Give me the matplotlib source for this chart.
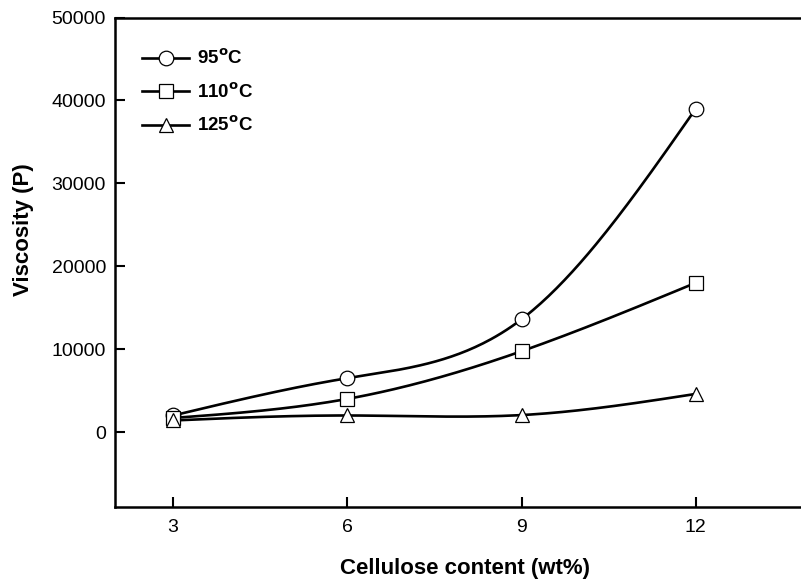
import numpy as np
import matplotlib
matplotlib.use("Agg")
import matplotlib.pyplot as plt

plt.rcParams['font.family'] = ['Liberation Sans', 'DejaVu Sans']

# data
content = [3, 6, 9, 12]
visc_95 = [2000, 6500, 13600, 39000]
visc_110 = [1700, 4000, 9750, 18000]
visc_125 = [1400, 2000, 2050, 4600]
labels = [r'95$^{\mathbf{o}}$C', r'110$^{\mathbf{o}}$C', r'125$^{\mathbf{o}}$C']
markers = ['o', 's', '^']
xticks = [3, 6, 9, 12]
yticks = [0, 10000, 20000, 30000, 40000, 50000]


def natural_spline(x, y, n=200):
    # natural cubic spline through the points, for the smooth connecting line
    x = np.asarray(x, float)
    y = np.asarray(y, float)
    k = len(x)
    h = np.diff(x)
    A = np.zeros((k, k))
    b = np.zeros(k)
    A[0, 0] = A[-1, -1] = 1
    for i in range(1, k - 1):
        A[i, i - 1] = h[i - 1]
        A[i, i] = 2 * (h[i - 1] + h[i])
        A[i, i + 1] = h[i]
        b[i] = 6 * ((y[i + 1] - y[i]) / h[i] - (y[i] - y[i - 1]) / h[i - 1])
    m = np.linalg.solve(A, b)
    xs = np.linspace(x[0], x[-1], n)
    idx = np.clip(np.searchsorted(x, xs) - 1, 0, k - 2)
    x0, x1 = x[idx], x[idx + 1]
    hh = x1 - x0
    t0, t1 = x1 - xs, xs - x0
    ys = (m[idx] * t0**3 / (6 * hh) + m[idx + 1] * t1**3 / (6 * hh)
          + (y[idx] / hh - m[idx] * hh / 6) * t0
          + (y[idx + 1] / hh - m[idx + 1] * hh / 6) * t1)
    return xs, ys


fig = plt.figure(figsize=(8.01, 5.80), dpi=100)
ax = fig.add_axes([0.1436, 0.1264, 0.870, 0.8434])

for series, lab, mk in zip([visc_95, visc_110, visc_125], labels, markers):
    xs, ys = natural_spline(content, series)
    ax.plot(xs, ys, color='black', lw=1.9, zorder=2)
    ax.plot(content, series, linestyle='none', marker=mk, ms=10.5,
            mfc='white', mec='black', mew=0.9, zorder=3)
    # proxy handle for legend
    ax.plot([], [], color='black', lw=1.9, marker=mk, ms=10.5,
            mfc='white', mec='black', mew=0.9, label=lab)

ax.set_xlim(2, 14)
ax.set_ylim(-9000, 50000)
ax.set_xticks(xticks)
ax.set_yticks(yticks)
ax.tick_params(direction='in', length=7, width=1.5, labelsize=14)
ax.tick_params(axis='y', pad=6.5)
ax.tick_params(axis='x', pad=9)
for s in ['left', 'bottom', 'top', 'right']:
    ax.spines[s].set_linewidth(1.8)

ax.set_xlabel('Cellulose content (wt%)', fontsize=16, fontweight='bold')
ax.set_ylabel('Viscosity (P)', fontsize=16, fontweight='bold')
ax.xaxis.set_label_coords(0.502, -0.104)
ax.yaxis.set_label_coords(-0.116, 0.566)

leg = ax.legend(loc='upper left', bbox_to_anchor=(0.015, 0.97), frameon=False,
                fontsize=13.5, handlelength=2.5, labelspacing=0.75, handletextpad=0.4)
for t in leg.get_texts():
    t.set_fontweight('bold')

fig.savefig('out.png', dpi=100)
